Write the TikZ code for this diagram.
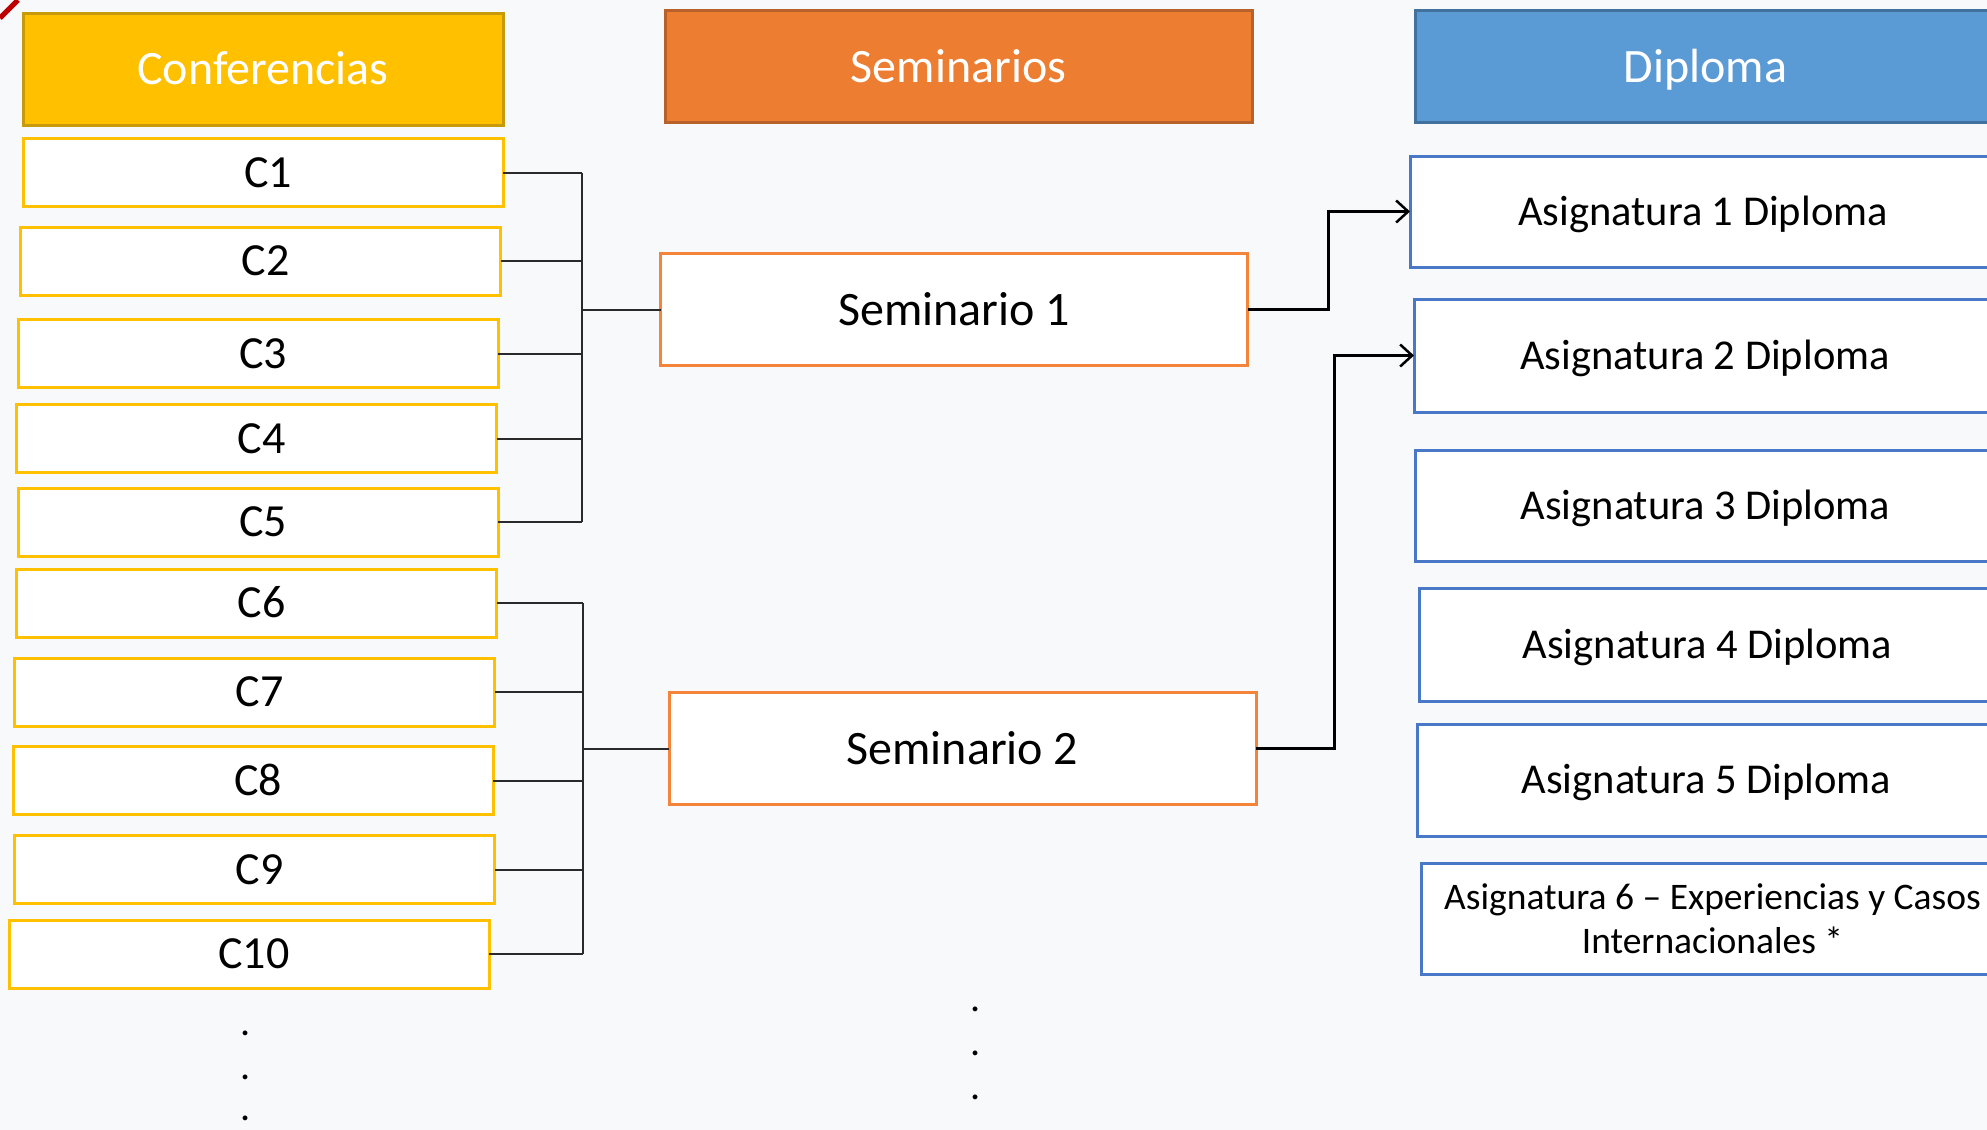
\documentclass[tikz,border=0pt]{standalone}
\usepackage{fontspec}
\setmainfont{Carlito}
\usetikzlibrary{arrows.meta}
\definecolor{bgc}{HTML}{F8F9FB}
\definecolor{confY}{HTML}{FFC000}
\definecolor{confYd}{HTML}{C79A0C}
\definecolor{semO}{HTML}{ED7D31}
\definecolor{semOd}{HTML}{B8612A}
\definecolor{semOl}{HTML}{F4843A}
\definecolor{dipB}{HTML}{5B9BD5}
\definecolor{dipBd}{HTML}{41719C}
\definecolor{dipBl}{HTML}{4A78C8}
\definecolor{linec}{HTML}{2A2A2A}
\begin{document}
\begin{tikzpicture}[x=1pt,y=-1pt,
  basebox/.style={rectangle, inner sep=0pt, outer sep=0pt, line width=3pt},
  hdr/.style={basebox, text height=31pt, text depth=0pt, text=white, minimum height=112pt, font=\fontsize{48}{56}\selectfont},
  hdrconf/.style={hdr, fill=confY, draw=confYd, minimum width=480pt},
  hdrsem/.style={hdr, fill=semO, draw=semOd, minimum width=587pt},
  hdrdip/.style={hdr, fill=dipB, draw=dipBd, minimum width=581pt},
  cbox/.style={basebox, text height=29.6pt, text depth=0pt, draw=confY, fill=white, minimum width=480pt, minimum height=68pt, font=\fontsize{46}{54}\selectfont, execute at begin node=\hspace*{10pt}},
  sbox/.style={basebox, text height=31pt, text depth=0pt, draw=semOl, fill=white, minimum width=587pt, minimum height=112pt, font=\fontsize{48}{56}\selectfont},
  abox/.style={basebox, draw=dipBl, fill=white, minimum width=580pt, minimum height=111pt, font=\fontsize{42.5}{50}\selectfont},
  aone/.style={abox, text height=27.4pt, text depth=0pt},
  bracket/.style={draw=linec, line width=2pt},
  link/.style={draw=black, line width=3pt, -{Straight Barb[length=12pt,width=22pt,line width=2.5pt]}},
  dotnode/.style={anchor=base, inner sep=0pt, font=\fontsize{40}{48}\selectfont}
]
\useasboundingbox (0,0) rectangle (1987,1130);
\fill[bgc] (0,0) rectangle (1987,1130);
\draw[line width=5pt, red!75!black] (0,18) -- (18,0);

% headers
\node[hdrconf] (hconf) at (263,69) {Conferencias};
\node[hdrsem] (hsem) at (958.5,66.5) {Seminarios};
\node[hdrdip] (hdip) at (1705.5,66.5) {Diploma};

% conferencias
\node[cbox] (c1) at (263,172.5) {C1};
\node[cbox] (c2) at (260.5,261) {C2};
\node[cbox] (c3) at (258,353.5) {C3};
\node[cbox] (c4) at (256.5,438.5) {C4};
\node[cbox] (c5) at (258,522) {C5};
\node[cbox] (c6) at (256.5,603) {C6};
\node[cbox] (c7) at (254.5,692) {C7};
\node[cbox] (c8) at (253,780.5) {C8};
\node[cbox] (c9) at (254.5,869.5) {C9};
\node[cbox] (c10) at (249,954) {C10};

% seminarios
\node[sbox] (s1) at (954,309.5) {Seminario 1};
\node[sbox] (s2) at (962.5,748.5) {Seminario 2};

% asignaturas
\node[aone, minimum width=586pt] (a1) at (1703,211.5) {Asignatura 1 Diploma};
\node[aone, minimum width=582pt, minimum height=113pt] (a2) at (1705,355.5) {Asignatura 2 Diploma};
\node[aone, minimum width=581pt] (a3) at (1705.5,505.5) {Asignatura 3 Diploma};
\node[aone, minimum width=577pt, minimum height=113pt] (a4) at (1707.5,644.5) {Asignatura 4 Diploma};
\node[aone, minimum width=579pt, minimum height=112pt] (a5) at (1706.5,780) {Asignatura 5 Diploma};
\node[abox, minimum width=575pt, align=center, font=\fontsize{37.5}{44}\selectfont] (a6) at (1708.5,918.5) {\hspace*{8pt}Asignatura 6 -- Experiencias y Casos\\\hspace*{8pt}Internacionales *};

% bus coordinates
\coordinate (busA) at (582,309.5);
\coordinate (busB) at (583,748.5);

% bracket 1
\foreach \n in {c1,c2,c3,c4,c5}{
  \draw[bracket] (\n.east) -- (\n.east -| busA);
}
\draw[bracket] (c1.east -| busA) -- (c5.east -| busA);
\draw[bracket] (busA) -- (s1.west);

% bracket 2
\foreach \n in {c6,c7,c8,c9,c10}{
  \draw[bracket] (\n.east) -- (\n.east -| busB);
}
\draw[bracket] (c6.east -| busB) -- (c10.east -| busB);
\draw[bracket] (busB) -- (s2.west);

% links to diploma
\coordinate (j1) at (1328,309.5);
\coordinate (j2) at (1334,748.5);
\draw[link] (s1.east) -- (j1) |- (a1.west);
\draw[link] (s2.east) -- (j2) |- (a2.west);

% ellipsis dots
\node[dotnode] (d1) at (246,1035) {.};
\node[dotnode] (d2) at (246,1079) {.};
\node[dotnode] (d3) at (246,1120) {.};
\node[dotnode] (e1) at (976,1011) {.};
\node[dotnode] (e2) at (976,1055) {.};
\node[dotnode] (e3) at (976,1099) {.};
\end{tikzpicture}
\end{document}
